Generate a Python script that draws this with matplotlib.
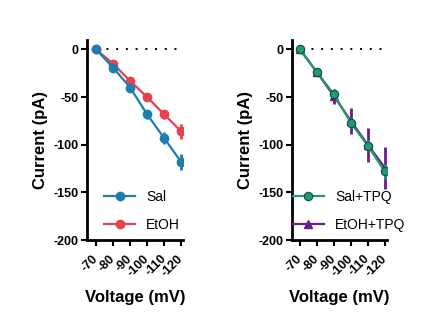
import matplotlib.pyplot as plt
from matplotlib.lines import Line2D

plt.rcParams['font.family'] = ['Liberation Sans', 'DejaVu Sans']
plt.rcParams['font.weight'] = 'bold'
plt.rcParams['axes.unicode_minus'] = False

# Data
voltage = ['-70', '-80', '-90', '-100', '-110', '-120']
sal = [0, -19, -40, -68, -93, -118]
sal_err = [1, 3, 4, 5, 6.5, 8]
etoh = [0, -15, -33, -50, -68, -86]
etoh_err = [1, 2, 3, 3.5, 5, 7.5]
sal_tpq = [0, -24, -47, -77, -101, -128]
sal_tpq_err = [2, 2, 3, 5, 6, 8]
etoh_tpq = [0, -24, -49, -75, -100, -124]
etoh_tpq_err = [2, 3, 8, 14, 18, 22]

c_sal = '#1a7fae'
c_etoh = '#e8404c'
c_saltpq = '#1f9a72'
c_etohtpq = '#6b1d8c'

fig = plt.figure(figsize=(4.27, 3.33), dpi=100)
ax1 = fig.add_axes([0.204, 0.279, 0.225, 0.601])
ax2 = fig.add_axes([0.684, 0.279, 0.222, 0.601])

x = list(range(len(voltage)))


def style(ax, xl):
    ax.axhline(0, color='black', linestyle=(0, (1, 4)), linewidth=1.4, zorder=0)
    ax.set_xlim(xl, 5.12)
    ax.set_ylim(-200, 10)
    ax.set_yticks([0, -50, -100, -150, -200])
    ax.set_xticks(x)
    ax.set_xticklabels(voltage, rotation=45, ha='right', va='center',
                       rotation_mode='anchor', fontsize=9, fontweight='bold')
    for lab in ax.get_yticklabels():
        lab.set_fontsize(9)
        lab.set_fontweight('bold')
    for s in ['top', 'right']:
        ax.spines[s].set_visible(False)
    for s in ['left', 'bottom']:
        ax.spines[s].set_linewidth(2)
    ax.tick_params(width=1.5, length=4, pad=2)
    ax.tick_params(axis='x', pad=8)
    ax.set_ylabel('Current (pA)', fontsize=12, fontweight='bold', labelpad=4)
    ax.set_xlabel('Voltage (mV)', fontsize=12, fontweight='bold', labelpad=8)


ax1.errorbar(x, sal, yerr=sal_err, color=c_sal, marker='o', markersize=6,
             linewidth=1.6, elinewidth=2, capsize=0, zorder=3)
ax1.errorbar(x, etoh, yerr=etoh_err, color=c_etoh, marker='o', markersize=6,
             linewidth=1.6, elinewidth=2, capsize=0, zorder=2)
style(ax1, -0.53)
h1 = [Line2D([], [], color=c_sal, marker='o', markersize=6, linewidth=1.6),
      Line2D([], [], color=c_etoh, marker='o', markersize=6, linewidth=1.6)]
ax1.legend(h1, ['Sal', 'EtOH'], loc='lower left', bbox_to_anchor=(0.05, -0.02),
           frameon=False, handlelength=2.2, labelspacing=1.0,
           prop={'weight': 'normal', 'size': 10})

ax2.errorbar(x, sal_tpq, yerr=sal_tpq_err, color=c_saltpq, marker='o', markersize=6,
             markeredgecolor='#0d4d3a', markeredgewidth=0.8,
             linewidth=1.6, elinewidth=2, capsize=0, zorder=3)
ax2.errorbar(x, etoh_tpq, yerr=etoh_tpq_err, color=c_etohtpq, marker='^', markersize=6,
             linewidth=1.6, elinewidth=2, capsize=0, zorder=2)
style(ax2, -0.47)
h2 = [Line2D([], [], color=c_saltpq, marker='o', markersize=6, linewidth=1.6,
             markeredgecolor='#0d4d3a', markeredgewidth=0.8),
      Line2D([], [], color=c_etohtpq, marker='^', markersize=6, linewidth=1.6)]
ax2.legend(h2, ['Sal+TPQ', 'EtOH+TPQ'], loc='lower left', bbox_to_anchor=(-0.12, -0.02),
           frameon=False, handlelength=2.2, labelspacing=1.0,
           prop={'weight': 'normal', 'size': 10})

plt.savefig('out.png', dpi=100)
